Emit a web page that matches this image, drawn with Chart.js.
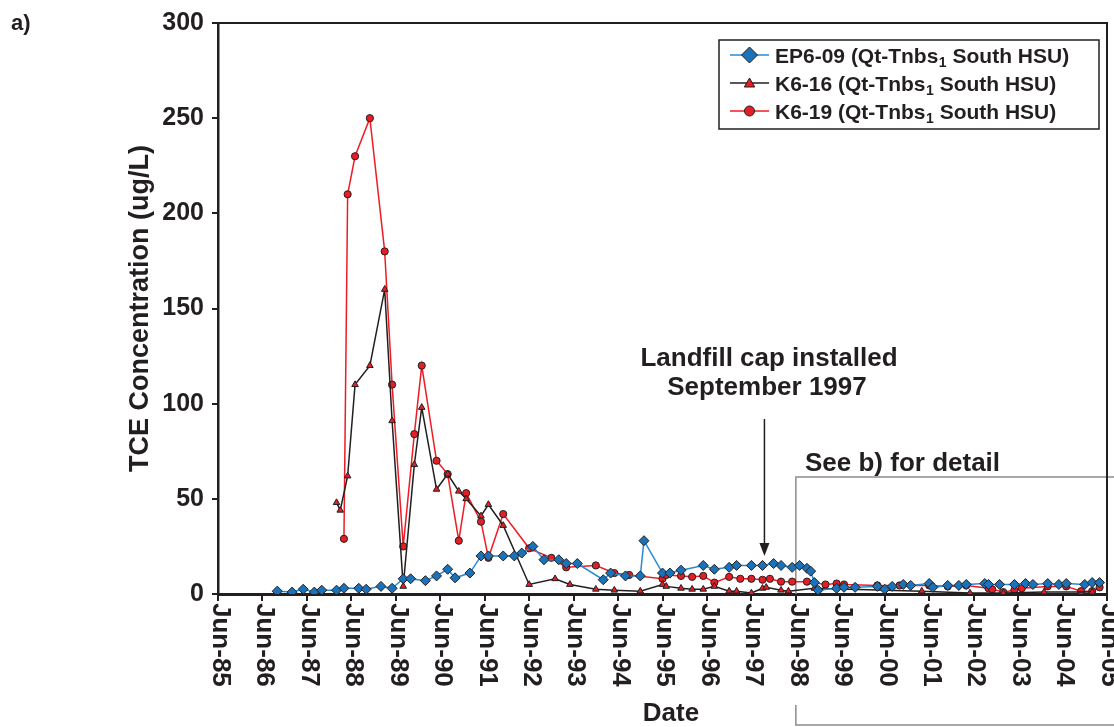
<!DOCTYPE html>
<html lang="en">
<head>
<meta charset="UTF-8">
<title>TCE Concentration</title>
<script src="https://cdn.jsdelivr.net/npm/chart.js"></script>
<style>
  html, body { margin: 0; padding: 0; background: #fff; }
</style>
</head>
<body>
<canvas id="grafico" width="1114" height="727"></canvas>

<script>
// sample dates (YYYY-MM) and TCE results in ug/L, one pair of arrays per well
const ep609Dates = [
  '1986-10',
  '1987-02', '1987-05', '1987-08', '1987-10',
  '1988-02', '1988-04', '1988-08', '1988-10',
  '1989-02', '1989-05', '1989-08', '1989-10',
  '1990-02', '1990-05', '1990-08', '1990-10',
  '1991-02', '1991-05', '1991-07', '1991-11',
  '1992-02', '1992-04', '1992-07', '1992-10',
  '1993-02', '1993-04', '1993-07',
  '1994-02', '1994-04', '1994-08', '1994-12',
  '1995-01', '1995-06', '1995-08', '1995-11',
  '1996-05', '1996-08', '1996-12',
  '1997-02', '1997-06', '1997-09', '1997-12',
  '1998-02', '1998-05', '1998-07', '1998-09', '1998-10', '1998-11', '1998-12',
  '1999-05', '1999-07', '1999-10',
  '2000-04', '2000-06', '2000-08', '2000-11',
  '2001-01', '2001-06', '2001-07', '2001-11',
  '2002-02', '2002-04', '2002-09', '2002-10',
  '2003-01', '2003-05', '2003-08', '2003-10',
  '2004-02', '2004-05', '2004-07', '2004-12',
  '2005-02', '2005-04'
];
const ep609Values = [
  1.5,
  1, 2.5, 1, 2,
  2, 3, 3, 2.5,
  4, 3, 8, 8,
  7, 9.5, 13, 8.5,
  11, 20, 20, 20,
  20, 21.5, 25, 18,
  18, 16, 16,
  7.5, 11, 9.5, 9.5,
  28, 11, 11, 12.5,
  15, 13, 14,
  15, 15, 15, 16,
  15, 14, 15, 13.5, 12, 6, 2,
  3, 3.5, 3.5,
  4, 2.5, 4, 5,
  4.5, 5.5, 3.5, 4.5,
  4.5, 5, 5.5, 5,
  5, 5, 5.5, 5,
  5.5, 5, 5.5, 5,
  6, 6
];

const k616Dates = [
  '1988-02', '1988-03', '1988-05', '1988-07', '1988-11',
  '1989-03', '1989-05', '1989-08', '1989-11',
  '1990-01', '1990-05', '1990-08', '1990-11',
  '1991-01', '1991-05', '1991-07', '1991-11',
  '1992-06',
  '1993-01', '1993-05', '1993-12',
  '1994-05', '1994-12',
  '1995-06', '1995-07', '1995-11',
  '1996-02', '1996-05', '1996-08', '1996-12',
  '1997-02', '1997-06', '1997-09', '1997-10',
  '1998-02', '1998-04', '1998-11',
  '2001-04', '2002-05', '2003-02', '2004-01', '2005-02'
];
const k616Values = [
  48, 44, 62, 110, 120,
  160, 91, 4, 68,
  98, 55, 63, 54,
  50, 41, 47, 36,
  5,
  8, 5, 2.5,
  2, 1.5,
  5, 4, 3,
  2.5, 2.5, 4, 1.5,
  1.5, 0.5, 3, 3.5,
  2, 1.5, 3,
  1.5, 0.5, 0.5, 1, 1
];

const k619Dates = [
  '1988-04', '1988-05', '1988-07', '1988-11',
  '1989-03', '1989-05', '1989-08', '1989-11',
  '1990-01', '1990-05', '1990-08', '1990-11',
  '1991-01', '1991-05', '1991-07', '1991-11',
  '1992-06', '1992-12',
  '1993-04', '1993-12',
  '1994-05', '1994-09',
  '1995-06', '1995-07', '1995-11',
  '1996-02', '1996-05', '1996-08', '1996-12',
  '1997-03', '1997-06', '1997-09', '1997-11',
  '1998-02', '1998-05', '1998-09',
  '1999-02', '1999-05', '1999-07',
  '2000-04', '2000-10',
  '2001-06', '2001-11',
  '2002-04', '2002-10', '2002-11',
  '2003-02', '2003-05', '2003-07',
  '2004-02', '2004-07', '2004-11',
  '2005-02', '2005-04'
];
const k619Values = [
  29, 210, 230, 250,
  180, 110, 25, 84,
  120, 70, 63, 28,
  53, 38, 19, 42,
  24, 19,
  14, 15,
  11, 10,
  8, 10, 9.5,
  9, 9.5, 6, 9,
  8, 8, 7.5, 8,
  6.5, 6.5, 6.5,
  5, 5.5, 5,
  4.5, 4.5,
  4.5, 4,
  4.5, 3, 2.5,
  1, 2, 3,
  4, 4, 1.5,
  1.5, 3.5
];

const wellNames = ['EP6-09', 'K6-16', 'K6-19'];
const xTickLabels = [
  'Jun-85', 'Jun-86', 'Jun-87', 'Jun-88', 'Jun-89', 'Jun-90', 'Jun-91',
  'Jun-92', 'Jun-93', 'Jun-94', 'Jun-95', 'Jun-96', 'Jun-97', 'Jun-98',
  'Jun-99', 'Jun-00', 'Jun-01', 'Jun-02', 'Jun-03', 'Jun-04', 'Jun-05'
];

const FONT = "'Liberation Sans', Arial, Helvetica, sans-serif";
const INK = '#231f20';

// 'YYYY-MM' -> decimal year
function toYear(s) {
  const [y, m] = s.split('-').map(Number);
  return y + (m - 1) / 12;
}
// 'Jun-85' -> decimal year
function labelToYear(l) {
  const yy = Number(l.slice(4));
  return (yy > 50 ? 1900 : 2000) + yy + 5 / 12;
}
function pontos(datas, valores) {
  return datas.map((d, i) => ({ x: toYear(d), y: valores[i] }));
}

const xTickValues = xTickLabels.map(labelToYear);

// frame, rotated date labels, legend and the notes
const extras = {
  id: 'extras',
  beforeDatasetsDraw(chart) {
    const { ctx, chartArea: a, scales: { x } } = chart;
    const bx = x.getPixelForValue(labelToYear('Jun-98'));
    ctx.save();
    ctx.strokeStyle = '#8c8c8c';
    ctx.lineWidth = 1.5;
    ctx.beginPath();
    ctx.moveTo(chart.width, 477);
    ctx.lineTo(bx, 477);
    ctx.lineTo(bx, a.bottom);
    ctx.moveTo(bx, 705);
    ctx.lineTo(bx, 725);
    ctx.lineTo(chart.width, 725);
    ctx.stroke();
    ctx.restore();
  },
  afterDraw(chart) {
    const { ctx, chartArea: a, scales: { x } } = chart;
    ctx.save();

    // top and right edge of the plot
    ctx.strokeStyle = INK;
    ctx.lineWidth = 2;
    ctx.beginPath();
    ctx.moveTo(a.left, a.top);
    ctx.lineTo(a.right, a.top);
    ctx.lineTo(a.right, a.bottom);
    ctx.stroke();

    // date labels, turned clockwise
    ctx.fillStyle = INK;
    ctx.font = `bold 26px ${FONT}`;
    ctx.textAlign = 'left';
    ctx.textBaseline = 'middle';
    xTickValues.forEach((v, i) => {
      const px = x.getPixelForValue(v);
      ctx.save();
      ctx.translate(px + 2, a.bottom + 9);
      ctx.rotate(Math.PI / 2);
      ctx.fillText(xTickLabels[i], 0, 0);
      ctx.restore();
    });

    ctx.textBaseline = 'alphabetic';
    ctx.textAlign = 'center';
    ctx.fillText('Date', 671, 721);

    // notes
    ctx.fillText('Landfill cap installed', 769, 366);
    ctx.fillText('September 1997', 767, 395);
    ctx.textAlign = 'left';
    ctx.fillText('See b) for detail', 805, 471);
    ctx.font = `bold 22px ${FONT}`;
    ctx.fillText('a)', 11, 30);

    // arrow for the cap date
    const ax = x.getPixelForValue(1997.71);
    ctx.strokeStyle = INK;
    ctx.lineWidth = 1.5;
    ctx.beginPath();
    ctx.moveTo(ax, 419);
    ctx.lineTo(ax, 546);
    ctx.stroke();
    ctx.fillStyle = INK;
    ctx.beginPath();
    ctx.moveTo(ax - 5, 543);
    ctx.lineTo(ax + 5, 543);
    ctx.lineTo(ax, 556);
    ctx.closePath();
    ctx.fill();

    // legend
    const lx = 719, ly = 40, lw = 380, lh = 89;
    ctx.fillStyle = '#fff';
    ctx.fillRect(lx, ly, lw, lh);
    ctx.strokeStyle = INK;
    ctx.lineWidth = 1.5;
    ctx.strokeRect(lx, ly, lw, lh);
    const raios = [8, 6, 5];
    chart.data.datasets.forEach((ds, i) => {
      const cy = 55 + i * 28;
      ctx.strokeStyle = ds.borderColor;
      ctx.lineWidth = 1.5;
      ctx.beginPath();
      ctx.moveTo(730, cy);
      ctx.lineTo(769, cy);
      ctx.stroke();
      ctx.fillStyle = ds.pointBackgroundColor;
      ctx.strokeStyle = INK;
      ctx.lineWidth = 1;
      Chart.helpers.drawPoint(ctx, { pointStyle: ds.pointStyle, radius: raios[i], borderWidth: 1, rotation: 0 }, 749.5, cy + (ds.pointStyle === 'triangle' ? 1 : 0));

      ctx.fillStyle = INK;
      ctx.font = `bold 21px ${FONT}`;
      let tx = 775;
      const base = cy + 7.5;
      const p1 = wellNames[i] + ' (Qt-Tnbs';
      ctx.fillText(p1, tx, base);
      tx += ctx.measureText(p1).width;
      ctx.font = `bold 14px ${FONT}`;
      ctx.fillText('1', tx + 0.5, base + 4);
      tx += ctx.measureText('1').width + 0.5;
      ctx.font = `bold 21px ${FONT}`;
      ctx.fillText(' South HSU)', tx, base);
    });

    ctx.restore();
  }
};

const ctx = document.getElementById('grafico');

const grafico = new Chart(ctx, {
  type: 'line',
  data: {
    datasets: [
      {
        label: 'EP6-09 (Qt-Tnbs1 South HSU)',
        data: pontos(ep609Dates, ep609Values),
        borderColor: '#2a8ad4',
        borderWidth: 1.5,
        pointStyle: 'rectRot',
        pointRadius: 5,
        pointBackgroundColor: '#1b72b8',
        pointBorderColor: INK,
        pointBorderWidth: 1
      },
      {
        label: 'K6-16 (Qt-Tnbs1 South HSU)',
        data: pontos(k616Dates, k616Values),
        borderColor: INK,
        borderWidth: 1.5,
        pointStyle: 'triangle',
        pointRadius: 3.8,
        pointBackgroundColor: '#e31e26',
        pointBorderColor: INK,
        pointBorderWidth: 1
      },
      {
        label: 'K6-19 (Qt-Tnbs1 South HSU)',
        data: pontos(k619Dates, k619Values),
        borderColor: '#ee1c25',
        borderWidth: 1.5,
        pointStyle: 'circle',
        pointRadius: 3.6,
        pointBackgroundColor: '#e31e26',
        pointBorderColor: INK,
        pointBorderWidth: 1
      }
    ]
  },
  options: {
    responsive: false,
    animation: false,
    layout: { padding: { left: 120, top: 21, right: 7, bottom: 0 } },
    elements: { line: { tension: 0 } },
    plugins: {
      legend: { display: false },
      tooltip: { enabled: false }
    },
    scales: {
      x: {
        type: 'linear',
        min: xTickValues[0],
        max: xTickValues[xTickValues.length - 1],
        afterBuildTicks: (s) => { s.ticks = xTickValues.map(v => ({ value: v })); },
        afterFit: (s) => { s.height = 133; },
        ticks: { display: false },
        grid: { drawOnChartArea: false, drawTicks: true, tickLength: 7, color: INK, lineWidth: 2 },
        border: { display: true, color: INK, width: 3 }
      },
      y: {
        min: 0,
        max: 300,
        afterFit: (s) => { s.width = 98; },
        ticks: {
          stepSize: 50,
          padding: 8,
          color: INK,
          font: { family: FONT, size: 25, weight: 'bold' }
        },
        grid: { drawOnChartArea: false, drawTicks: true, tickLength: 6, color: INK, lineWidth: 2 },
        border: { display: true, color: INK, width: 2.5 },
        title: {
          display: true,
          text: 'TCE Concentration (ug/L)',
          color: INK,
          padding: { top: 4, bottom: 0 },
          font: { family: FONT, size: 27, weight: 'bold' }
        }
      }
    }
  },
  plugins: [extras]
});
</script>
</body>
</html>
